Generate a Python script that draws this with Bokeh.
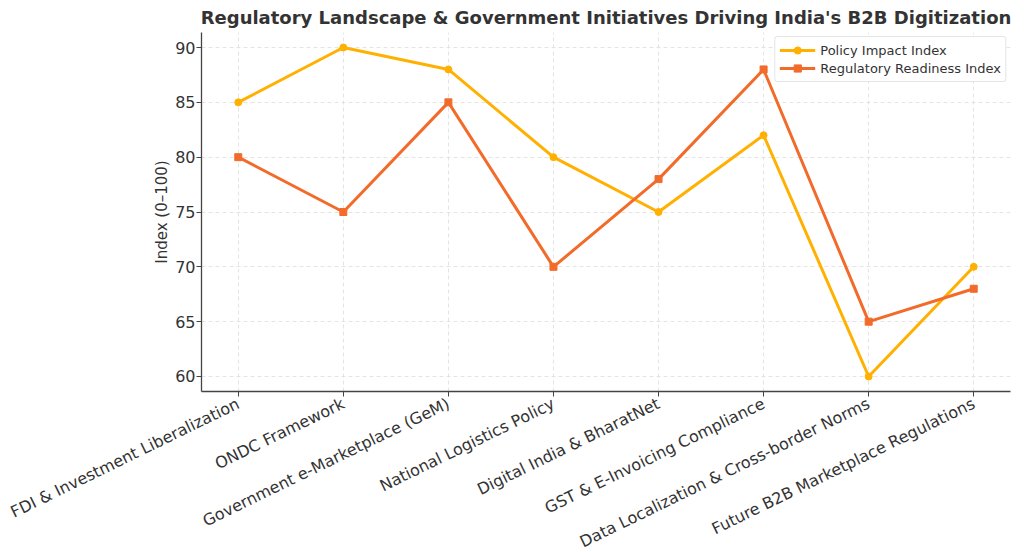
import math
from bokeh.plotting import figure
from bokeh.models import ColumnDataSource, Range1d, Legend, LegendItem
from bokeh.embed import file_html
from bokeh.resources import INLINE

categories = ["FDI & Investment Liberalization", "ONDC Framework", "Government e-Marketplace (GeM)",
              "National Logistics Policy", "Digital India & BharatNet", "GST & E-Invoicing Compliance",
              "Data Localization & Cross-border Norms", "Future B2B Marketplace Regulations"]
policy_impact = [85, 90, 88, 80, 75, 82, 60, 70]
regulatory_readiness = [80, 75, 85, 70, 78, 88, 65, 68]
y_ticks = [60, 65, 70, 75, 80, 85, 90]

FONT = "DejaVu Sans"
C1 = "#FFB000"
C2 = "#F26B2A"

src = ColumnDataSource(dict(x=list(range(len(categories))), p=policy_impact, r=regulatory_readiness))

p = figure(frame_width=809, frame_height=359, output_backend="svg", toolbar_location=None,
           x_range=Range1d(-0.35, 7.35), y_range=Range1d(58.63, 91.37),
           min_border_left=201, min_border_right=4, min_border_top=32, min_border_bottom=0)

p.title.text = "Regulatory Landscape & Government Initiatives Driving India's B2B Digitization"
p.title.align = "center"
p.title.text_font = FONT
p.title.text_font_size = "18px"
p.title.text_color = "#333333"
p.title.text_font_style = "bold"
p.title.offset = 0
p.title.standoff = 9

l1 = p.line("x", "p", source=src, color=C1, line_width=3)
m1 = p.scatter("x", "p", source=src, marker="circle", size=7, color=C1)
l2 = p.line("x", "r", source=src, color=C2, line_width=3)
m2 = p.scatter("x", "r", source=src, marker="square", size=7, color=C2)

p.xaxis.ticker = list(range(len(categories)))
p.xaxis.major_label_overrides = {i: c for i, c in enumerate(categories)}
p.xaxis.major_label_orientation = math.radians(26)
p.yaxis.ticker = y_ticks
p.yaxis.axis_label = "Index (0–100)"
p.yaxis.major_label_standoff = 1
p.yaxis.axis_label_standoff = 1
p.xaxis.major_label_standoff = 6

for ax in (p.xaxis, p.yaxis):
    ax.major_label_text_font = FONT
    ax.major_label_text_font_size = "16px"
    ax.major_label_text_color = "#333333"
    ax.axis_line_color = "#444444"
    ax.axis_line_width = 1.3
    ax.major_tick_line_color = "#444444"
    ax.major_tick_in = 0
    ax.major_tick_out = 5
    ax.minor_tick_line_color = None
    ax.axis_label_text_font = FONT
    ax.axis_label_text_font_size = "15px"
    ax.axis_label_text_font_style = "normal"
    ax.axis_label_text_color = "#333333"

p.grid.grid_line_color = "#dddddd"
p.grid.grid_line_dash = "4 3"
p.grid.grid_line_width = 0.8
p.outline_line_color = None

legend = Legend(items=[LegendItem(label="Policy Impact Index", renderers=[l1, m1]),
                       LegendItem(label="Regulatory Readiness Index", renderers=[l2, m2])],
                location="top_right")
legend.label_text_font = FONT
legend.label_text_font_size = "13px"
legend.label_text_color = "#333333"
legend.border_line_color = "#cccccc"
legend.border_radius = 3
legend.spacing = 0
legend.padding = 4
legend.margin = 4
legend.glyph_width = 36
legend.label_height = 18
legend.glyph_height = 18
p.add_layout(legend)

open("out.html", "w").write(file_html(p, INLINE))
